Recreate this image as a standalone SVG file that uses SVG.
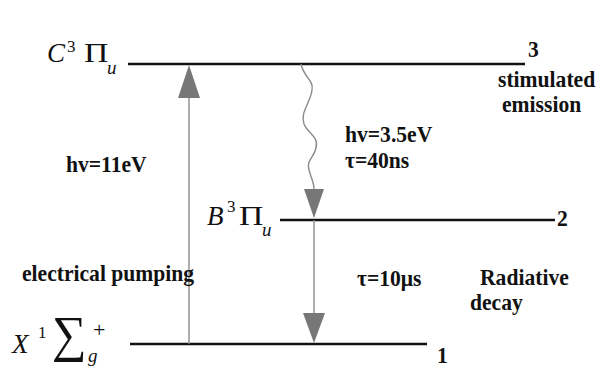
<svg xmlns="http://www.w3.org/2000/svg" width="597" height="368" viewBox="0 0 597 368">
  <style>
    .level { stroke: #111; stroke-width: 2.4; fill: none; }
    .arrow { stroke: #8a8a8a; stroke-width: 1.4; fill: none; }
    .head { fill: #777; stroke: none; }
    .lbl { font-family: "Liberation Serif", "Times New Roman", serif; font-weight: bold; font-size: 24px; fill: #111; }
    .math { font-family: "Liberation Serif", "DejaVu Serif", serif; fill: #111; }
    .it { font-style: italic; }
  </style>
  <rect width="597" height="368" fill="#fff"/>

  <!-- energy level 3 -->
  <g id="level-3">
    <line class="level" x1="128" y1="64" x2="525" y2="64"/>
    <text class="math it" x="47" y="62" font-size="27">C</text>
    <text class="math" x="67" y="52" font-size="17">3</text>
    <text class="math" transform="translate(84 62) scale(1.25 1)" font-size="27">Π</text>
    <text class="math it" x="107" y="74" font-size="19">u</text>
    <text class="lbl" transform="translate(528 57) scale(0.9 1)">3</text>
    <text class="lbl" transform="translate(498 87) scale(0.9 1)">stimulated</text>
    <text class="lbl" transform="translate(502 112) scale(0.9 1)">emission</text>
  </g>

  <!-- energy level 2 -->
  <g id="level-2">
    <line class="level" x1="280" y1="220" x2="555" y2="220"/>
    <text class="math it" x="207" y="225" font-size="27">B</text>
    <text class="math" x="227" y="212" font-size="17">3</text>
    <text class="math" transform="translate(239 225) scale(1.25 1)" font-size="27">Π</text>
    <text class="math it" x="262" y="236" font-size="19">u</text>
    <text class="lbl" transform="translate(557 226) scale(0.9 1)">2</text>
  </g>

  <!-- energy level 1 (ground state) -->
  <g id="level-1">
    <line class="level" x1="130" y1="344" x2="427" y2="344"/>
    <text class="math it" x="12" y="353" font-size="27">X</text>
    <text class="math" x="38" y="338" font-size="17">1</text>
    <text class="math" transform="translate(52 351) scale(1.35 1.4)" font-size="36">∑</text>
    <text class="math" x="93" y="337" font-size="22">+</text>
    <text class="math it" x="88" y="362" font-size="19">g</text>
    <text class="lbl" transform="translate(437 363) scale(0.9 1)">1</text>
  </g>

  <!-- transitions -->
  <g id="connectors">
    <line class="arrow" x1="189" y1="344" x2="189" y2="97"/>
    <polygon class="head" points="189,65 178,98 200,98"/>
    <path class="arrow" d="M301,64 C304,78 314,80 312,90 C310,104 300,112 304,124 C308,134 319,136 316,148 C314,158 306,160 309,170 C311,178 314,182 314,189"/>
    <polygon class="head" points="314,218 304,189 324,189"/>
    <line class="arrow" x1="314" y1="220" x2="314" y2="314"/>
    <polygon class="head" points="314,343 303,313 325,313"/>
  </g>

  <!-- transition labels -->
  <g id="labels">
    <text class="lbl" transform="translate(66 172) scale(0.9 1)">hv=11eV</text>
    <text class="lbl" transform="translate(345 142) scale(0.9 1)">hv=3.5eV</text>
    <text class="lbl" transform="translate(345 168) scale(0.9 1)">τ=40ns</text>
    <text class="lbl" transform="translate(22 281) scale(0.9 1)">electrical pumping</text>
    <text class="lbl" transform="translate(357 286) scale(0.9 1)">τ=10μs</text>
    <text class="lbl" transform="translate(480 285) scale(0.9 1)">Radiative</text>
    <text class="lbl" transform="translate(470 310) scale(0.9 1)">decay</text>
  </g>
</svg>
